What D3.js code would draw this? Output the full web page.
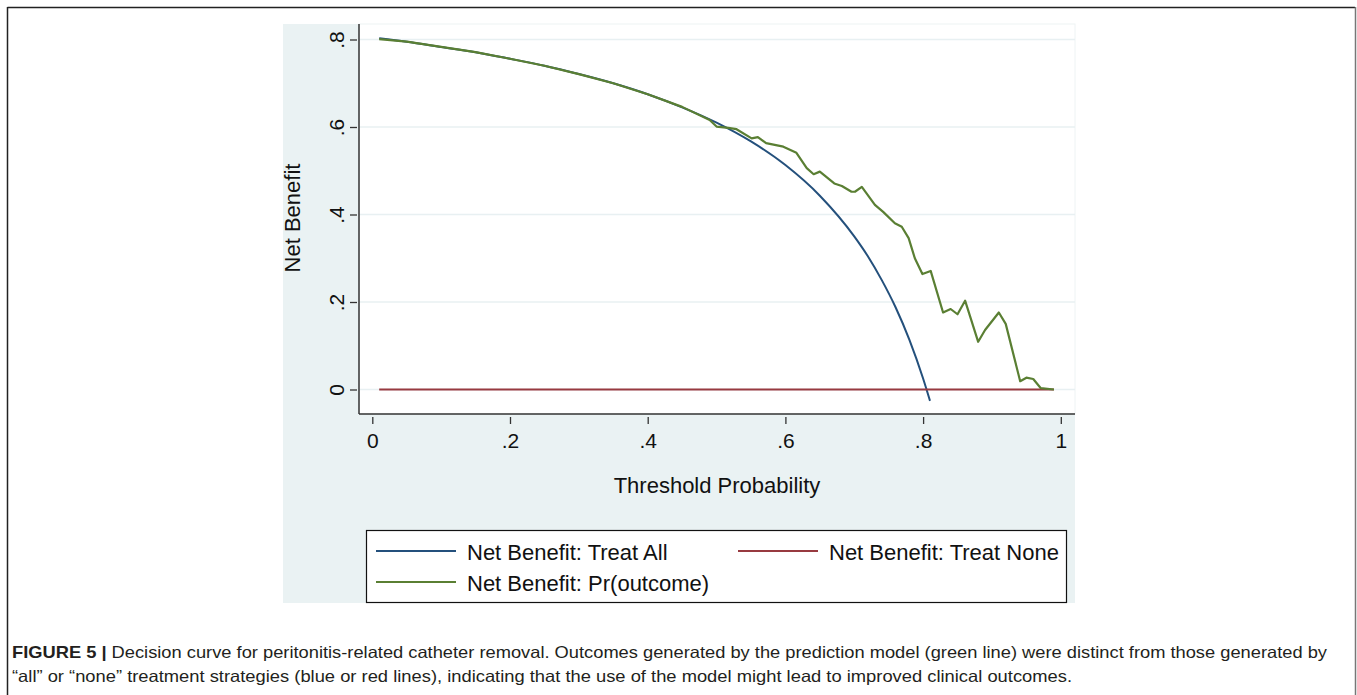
<!DOCTYPE html>
<html>
<head>
<meta charset="utf-8">
<script src="https://cdn.jsdelivr.net/npm/d3@7"></script>
<style>
  html, body { margin: 0; padding: 0; background: #ffffff; }
  svg { display: block; }
</style>
</head>
<body>
<svg id="chart" width="1357" height="695"></svg>
<script>
// ---- data ----
const allThresholds = [0.01, 0.05, 0.10, 0.15, 0.20, 0.25, 0.30, 0.35, 0.40, 0.45, 0.50, 0.55, 0.60, 0.65, 0.70, 0.72, 0.74, 0.76, 0.78, 0.80, 0.81];
const treatAllNB    = [0.803, 0.795, 0.783, 0.771, 0.756, 0.740, 0.721, 0.700, 0.675, 0.645, 0.610, 0.567, 0.513, 0.443, 0.350, 0.304, 0.250, 0.188, 0.114, 0.025, -0.026];

const noneThresholds = [0.01, 0.99];
const treatNoneNB    = [0, 0];

const modelThresholds = [0.01, 0.05, 0.10, 0.15, 0.20, 0.25, 0.30, 0.35, 0.40, 0.45, 0.49, 0.50, 0.517, 0.529, 0.551, 0.560, 0.572, 0.597, 0.616, 0.631, 0.641, 0.650, 0.671, 0.682, 0.696, 0.701, 0.711, 0.730, 0.742, 0.759, 0.769, 0.779, 0.788, 0.799, 0.811, 0.829, 0.840, 0.850, 0.861, 0.880, 0.890, 0.910, 0.920, 0.941, 0.950, 0.960, 0.971, 0.990];
const modelNB         = [0.801, 0.795, 0.783, 0.771, 0.756, 0.740, 0.721, 0.700, 0.675, 0.646, 0.616, 0.601, 0.598, 0.595, 0.574, 0.577, 0.563, 0.555, 0.541, 0.506, 0.492, 0.498, 0.471, 0.465, 0.452, 0.452, 0.463, 0.422, 0.406, 0.380, 0.372, 0.346, 0.300, 0.264, 0.271, 0.176, 0.184, 0.172, 0.203, 0.109, 0.136, 0.176, 0.150, 0.019, 0.027, 0.024, 0.003, 0.000];

const xTicks = [0, 0.2, 0.4, 0.6, 0.8, 1];
const xTickLabels = ["0", ".2", ".4", ".6", ".8", "1"];
const yTicks = [0, 0.2, 0.4, 0.6, 0.8];
const yTickLabels = ["0", ".2", ".4", ".6", ".8"];

const seriesNames = ["Net Benefit: Treat All", "Net Benefit: Treat None", "Net Benefit: Pr(outcome)"];
const seriesColors = ["#24507c", "#983a40", "#5a7f33"];

const xTitle = "Threshold Probability";
const yTitle = "Net Benefit";
const captionBold = "FIGURE 5 |";
const captionLine1 = " Decision curve for peritonitis-related catheter removal. Outcomes generated by the prediction model (green line) were distinct from those generated by";
const captionLine2 = "“all” or “none” treatment strategies (blue or red lines), indicating that the use of the model might lead to improved clinical outcomes.";

// ---- layout ----
const svg = d3.select("#chart");
const font = "'Liberation Sans', Arial, sans-serif";
const panel = {x0: 283, y0: 24, x1: 1075, y1: 603};
const plot = {x0: 359, y0: 24, x1: 1075, y1: 414};

const x = d3.scaleLinear().domain([0, 1]).range([372.3, 1060.8]);
const y = d3.scaleLinear().domain([0, 0.8]).range([389.5, 39.5]);

// outer frame
svg.append("line").attr("x1", 7.5).attr("x2", 1355).attr("y1", 7.5).attr("y2", 7.5).attr("stroke", "#222").attr("stroke-width", 1.5);
svg.append("line").attr("x1", 7.5).attr("x2", 7.5).attr("y1", 7).attr("y2", 695).attr("stroke", "#222").attr("stroke-width", 1.5);
svg.append("line").attr("x1", 1355.5).attr("x2", 1355.5).attr("y1", 7).attr("y2", 695).attr("stroke", "#777").attr("stroke-width", 1.5);

// graph panel background
svg.append("rect").attr("x", panel.x0).attr("y", panel.y0).attr("width", panel.x1 - panel.x0).attr("height", panel.y1 - panel.y0).attr("fill", "#eaf2f3");
svg.append("rect").attr("x", plot.x0).attr("y", plot.y0).attr("width", plot.x1 - plot.x0).attr("height", plot.y1 - plot.y0).attr("fill", "#ffffff").attr("stroke", "#eef3f4");

// gridlines
svg.append("g").selectAll("line").data(yTicks).join("line")
  .attr("x1", plot.x0).attr("x2", plot.x1)
  .attr("y1", d => y(d)).attr("y2", d => y(d))
  .attr("stroke", "#e8f0f2").attr("stroke-width", 1.5);

// y axis
const yAxis = d3.axisLeft(y).tickValues(yTicks).tickFormat((d, i) => yTickLabels[i]).tickSize(7).tickPadding(0);
const gy = svg.append("g").attr("transform", `translate(${plot.x0 - 2},0)`).call(yAxis);
gy.select(".domain").remove();
gy.selectAll(".tick line").attr("stroke", "#333").attr("stroke-width", 1.3);
gy.selectAll(".tick text")
  .attr("x", 0).attr("y", 0).attr("dy", null)
  .attr("transform", "translate(-21,0) rotate(-90)")
  .attr("text-anchor", "middle").attr("dominant-baseline", "central")
  .attr("font-family", font).attr("font-size", 21).attr("fill", "#111");
svg.append("line").attr("x1", plot.x0).attr("x2", plot.x0).attr("y1", plot.y0).attr("y2", plot.y1)
  .attr("stroke", "#333").attr("stroke-width", 1.5);

// x axis
const xAxis = d3.axisBottom(x).tickValues(xTicks).tickFormat((d, i) => xTickLabels[i]).tickSize(7).tickPadding(9);
const gx = svg.append("g").attr("transform", `translate(0,${plot.y1 + 3})`).call(xAxis);
gx.select(".domain").remove();
gx.selectAll(".tick line").attr("stroke", "#333").attr("stroke-width", 1.3);
gx.selectAll(".tick text").attr("font-family", font).attr("font-size", 21).attr("fill", "#111");
svg.append("line").attr("x1", plot.x0).attr("x2", plot.x1).attr("y1", plot.y1).attr("y2", plot.y1)
  .attr("stroke", "#333").attr("stroke-width", 1.5);

// axis titles
svg.append("text").attr("x", 717).attr("y", 493).attr("text-anchor", "middle")
  .attr("font-family", font).attr("font-size", 22).attr("fill", "#111").text(xTitle);
svg.append("text").attr("transform", "translate(300,218) rotate(-90)").attr("text-anchor", "middle")
  .attr("font-family", font).attr("font-size", 22).attr("fill", "#111").text(yTitle);

// lines
const line = d3.line().x(d => x(d[0])).y(d => y(d[1]));
const smooth = d3.line().x(d => x(d[0])).y(d => y(d[1])).curve(d3.curveMonotoneX);

svg.append("path").datum(allThresholds.map((t, i) => [t, treatAllNB[i]]))
  .attr("d", smooth).attr("fill", "none").attr("stroke", seriesColors[0]).attr("stroke-width", 2);
svg.append("path").datum(noneThresholds.map((t, i) => [t, treatNoneNB[i]]))
  .attr("d", line).attr("fill", "none").attr("stroke", seriesColors[1]).attr("stroke-width", 2);
svg.append("path").datum(modelThresholds.map((t, i) => [t, modelNB[i]]))
  .attr("d", line).attr("fill", "none").attr("stroke", seriesColors[2]).attr("stroke-width", 2.2).attr("stroke-linejoin", "round");

// legend
const leg = svg.append("g");
leg.append("rect").attr("x", 366.5).attr("y", 530.5).attr("width", 700).attr("height", 72)
  .attr("fill", "#ffffff").attr("stroke", "#111").attr("stroke-width", 1.2);
const legItems = [
  {name: seriesNames[0], color: seriesColors[0], lx: 376, ty: 551},
  {name: seriesNames[1], color: seriesColors[1], lx: 738, ty: 551},
  {name: seriesNames[2], color: seriesColors[2], lx: 376, ty: 582}
];
legItems.forEach(it => {
  leg.append("line").attr("x1", it.lx).attr("x2", it.lx + 80).attr("y1", it.ty).attr("y2", it.ty)
    .attr("stroke", it.color).attr("stroke-width", 2);
  leg.append("text").attr("x", it.lx + 91).attr("y", it.ty + 1).attr("dominant-baseline", "central")
    .attr("font-family", font).attr("font-size", 22).attr("fill", "#111").text(it.name);
});

// caption
const capFont = "'Liberation Sans Narrow', 'Liberation Sans', Arial, sans-serif";
const c1 = svg.append("text").attr("x", 12).attr("y", 658)
  .attr("font-family", capFont).attr("font-size", 16.5).attr("fill", "#231f20")
  .attr("textLength", 1315).attr("lengthAdjust", "spacingAndGlyphs");
c1.append("tspan").attr("font-weight", "bold").text(captionBold);
c1.append("tspan").text(captionLine1);
svg.append("text").attr("x", 12).attr("y", 682)
  .attr("font-family", capFont).attr("font-size", 16.5).attr("fill", "#231f20")
  .attr("textLength", 1060).attr("lengthAdjust", "spacingAndGlyphs")
  .text(captionLine2);
</script>
</body>
</html>
